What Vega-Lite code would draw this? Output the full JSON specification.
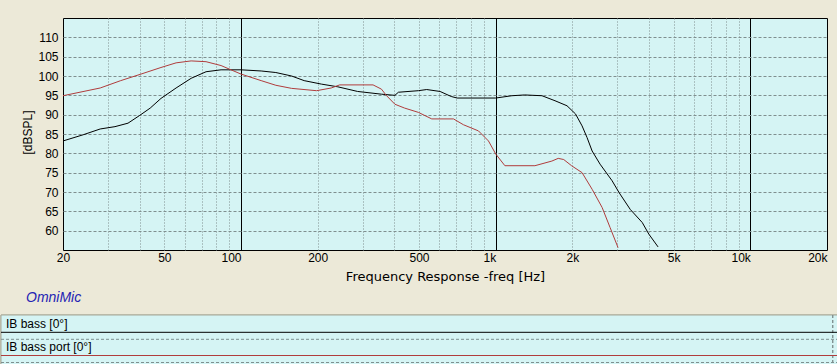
{
  "$schema": "https://vega.github.io/schema/vega-lite/v6.json",
  "background": "#ECE9D8",
  "padding": {"left": 0, "top": 17, "right": 0, "bottom": 0},
  "autosize": {"type": "pad"},
  "bounds": "flush",
  "spacing": 65,
  "resolve": {"scale": {"x": "independent", "y": "independent", "color": "independent"}},
  "config": {
    "font": "Liberation Sans",
    "view": {"stroke": null},
    "axis": {"labelFont": "Liberation Sans", "labelFontSize": 12, "labelColor": "#000000", "titleFont": "Liberation Sans", "titleFontSize": 12, "titleFontWeight": "normal", "titleColor": "#000000"}
  },
  "vconcat": [
    {
      "width": 764,
      "height": 232,
      "view": {"fill": "#D5F4F4", "stroke": "#000000", "strokeWidth": 1},
      "title": {"text": "OmniMic", "orient": "bottom", "anchor": "start", "frame": "group", "font": "Liberation Sans", "fontSize": 14, "fontStyle": "italic", "fontWeight": "normal", "color": "#2424B4", "dx": -37, "offset": 8, "baseline": "top"},
      "data": {"values": [
        {"series": "IB bass [0°]", "freq": 20, "spl": 83.2},
        {"series": "IB bass [0°]", "freq": 24, "spl": 84.8},
        {"series": "IB bass [0°]", "freq": 28, "spl": 86.3},
        {"series": "IB bass [0°]", "freq": 32, "spl": 86.9},
        {"series": "IB bass [0°]", "freq": 36, "spl": 87.8},
        {"series": "IB bass [0°]", "freq": 40, "spl": 89.8},
        {"series": "IB bass [0°]", "freq": 44, "spl": 91.7},
        {"series": "IB bass [0°]", "freq": 48.5, "spl": 94.2},
        {"series": "IB bass [0°]", "freq": 55.6, "spl": 96.9},
        {"series": "IB bass [0°]", "freq": 63.7, "spl": 99.4},
        {"series": "IB bass [0°]", "freq": 72.9, "spl": 101.1},
        {"series": "IB bass [0°]", "freq": 83.5, "spl": 101.6},
        {"series": "IB bass [0°]", "freq": 100, "spl": 101.6},
        {"series": "IB bass [0°]", "freq": 120, "spl": 101.3},
        {"series": "IB bass [0°]", "freq": 137, "spl": 100.9},
        {"series": "IB bass [0°]", "freq": 158, "spl": 100.0},
        {"series": "IB bass [0°]", "freq": 177, "spl": 98.8},
        {"series": "IB bass [0°]", "freq": 207, "spl": 97.9},
        {"series": "IB bass [0°]", "freq": 240, "spl": 97.2},
        {"series": "IB bass [0°]", "freq": 287, "spl": 96.0},
        {"series": "IB bass [0°]", "freq": 356, "spl": 95.3},
        {"series": "IB bass [0°]", "freq": 402, "spl": 95.0},
        {"series": "IB bass [0°]", "freq": 415, "spl": 95.8},
        {"series": "IB bass [0°]", "freq": 497, "spl": 96.2},
        {"series": "IB bass [0°]", "freq": 536, "spl": 96.5},
        {"series": "IB bass [0°]", "freq": 605, "spl": 96.0},
        {"series": "IB bass [0°]", "freq": 669, "spl": 94.7},
        {"series": "IB bass [0°]", "freq": 706, "spl": 94.3},
        {"series": "IB bass [0°]", "freq": 1000, "spl": 94.3},
        {"series": "IB bass [0°]", "freq": 1158, "spl": 94.9},
        {"series": "IB bass [0°]", "freq": 1300, "spl": 95.1},
        {"series": "IB bass [0°]", "freq": 1520, "spl": 94.9},
        {"series": "IB bass [0°]", "freq": 1710, "spl": 93.6},
        {"series": "IB bass [0°]", "freq": 1906, "spl": 92.3},
        {"series": "IB bass [0°]", "freq": 2058, "spl": 90.2},
        {"series": "IB bass [0°]", "freq": 2184, "spl": 87.1},
        {"series": "IB bass [0°]", "freq": 2284, "spl": 84.1},
        {"series": "IB bass [0°]", "freq": 2392, "spl": 80.6},
        {"series": "IB bass [0°]", "freq": 2570, "spl": 77.2},
        {"series": "IB bass [0°]", "freq": 2866, "spl": 72.9},
        {"series": "IB bass [0°]", "freq": 3055, "spl": 69.8},
        {"series": "IB bass [0°]", "freq": 3376, "spl": 65.5},
        {"series": "IB bass [0°]", "freq": 3764, "spl": 62.1},
        {"series": "IB bass [0°]", "freq": 3995, "spl": 59.1},
        {"series": "IB bass [0°]", "freq": 4342, "spl": 55.8},
        {"series": "IB bass port [0°]", "freq": 20, "spl": 94.9},
        {"series": "IB bass port [0°]", "freq": 28, "spl": 96.9},
        {"series": "IB bass port [0°]", "freq": 33.7, "spl": 98.8},
        {"series": "IB bass port [0°]", "freq": 40.5, "spl": 100.5},
        {"series": "IB bass port [0°]", "freq": 48.5, "spl": 102.2},
        {"series": "IB bass port [0°]", "freq": 55.6, "spl": 103.4},
        {"series": "IB bass port [0°]", "freq": 63.7, "spl": 103.9},
        {"series": "IB bass port [0°]", "freq": 72.9, "spl": 103.7},
        {"series": "IB bass port [0°]", "freq": 83.5, "spl": 102.7},
        {"series": "IB bass port [0°]", "freq": 100, "spl": 100.5},
        {"series": "IB bass port [0°]", "freq": 120, "spl": 98.8},
        {"series": "IB bass port [0°]", "freq": 137, "spl": 97.6},
        {"series": "IB bass port [0°]", "freq": 158, "spl": 96.8},
        {"series": "IB bass port [0°]", "freq": 198, "spl": 96.2},
        {"series": "IB bass port [0°]", "freq": 226, "spl": 96.9},
        {"series": "IB bass port [0°]", "freq": 244, "spl": 97.7},
        {"series": "IB bass port [0°]", "freq": 330, "spl": 97.7},
        {"series": "IB bass port [0°]", "freq": 356, "spl": 96.6},
        {"series": "IB bass port [0°]", "freq": 373, "spl": 94.9},
        {"series": "IB bass port [0°]", "freq": 402, "spl": 92.7},
        {"series": "IB bass port [0°]", "freq": 439, "spl": 91.7},
        {"series": "IB bass port [0°]", "freq": 497, "spl": 90.6},
        {"series": "IB bass port [0°]", "freq": 561, "spl": 88.9},
        {"series": "IB bass port [0°]", "freq": 683, "spl": 88.9},
        {"series": "IB bass port [0°]", "freq": 747, "spl": 87.4},
        {"series": "IB bass port [0°]", "freq": 856, "spl": 85.8},
        {"series": "IB bass port [0°]", "freq": 937, "spl": 83.2},
        {"series": "IB bass port [0°]", "freq": 1001, "spl": 79.8},
        {"series": "IB bass port [0°]", "freq": 1087, "spl": 76.8},
        {"series": "IB bass port [0°]", "freq": 1426, "spl": 76.8},
        {"series": "IB bass port [0°]", "freq": 1662, "spl": 78.0},
        {"series": "IB bass port [0°]", "freq": 1760, "spl": 78.7},
        {"series": "IB bass port [0°]", "freq": 1850, "spl": 78.4},
        {"series": "IB bass port [0°]", "freq": 1986, "spl": 76.8},
        {"series": "IB bass port [0°]", "freq": 2184, "spl": 75.0},
        {"series": "IB bass port [0°]", "freq": 2392, "spl": 70.7},
        {"series": "IB bass port [0°]", "freq": 2618, "spl": 66.0},
        {"series": "IB bass port [0°]", "freq": 2814, "spl": 60.8},
        {"series": "IB bass port [0°]", "freq": 3024, "spl": 55.6}
      ]},
      "mark": {"type": "line", "strokeWidth": 1, "clip": true},
      "encoding": {
        "x": {
          "field": "freq", "type": "quantitative",
          "scale": {"type": "log", "domain": [20, 20000], "nice": false},
          "axis": {
            "values": [20, 30, 40, 50, 60, 70, 80, 90, 100, 200, 300, 400, 500, 600, 700, 800, 900, 1000, 2000, 3000, 4000, 5000, 6000, 7000, 8000, 9000, 10000, 20000],
            "labelExpr": "indexof([20,50,100,200,500,1000,2000,5000,10000,20000], datum.value) >= 0 ? (datum.value >= 1000 ? (datum.value / 1000) + 'k' : '' + datum.value) : ''",
            "labelOverlap": false,
            "labelPadding": 2,
            "labelAlign": {"condition": {"test": "indexof([100,1000,10000,20000], datum.value) >= 0", "value": "right"}, "value": "center"},
            "ticks": false,
            "tickSize": 0,
            "domain": false,
            "grid": true,
            "gridColor": {"condition": {"test": "indexof([100,1000,10000], datum.value) >= 0", "value": "#000000"}, "value": "#7F8F8F"},
            "gridDash": {"condition": {"test": "indexof([100,1000,10000], datum.value) >= 0", "value": []}, "value": [1, 2]},
            "gridOpacity": {"condition": {"test": "datum.value == 20 || datum.value == 20000", "value": 0}, "value": 1},
            "title": "Frequency Response -freq [Hz]",
            "titleFont": "DejaVu Sans",
            "titleFontSize": 13,
            "titleX": 382,
            "titleY": 30,
            "titleAlign": "center",
            "titleBaseline": "alphabetic"
          }
        },
        "y": {
          "field": "spl", "type": "quantitative",
          "scale": {"domain": [55, 115], "nice": false, "zero": false},
          "axis": {
            "values": [60, 65, 70, 75, 80, 85, 90, 95, 100, 105, 110],
            "ticks": false,
            "tickSize": 0,
            "domain": false,
            "labelPadding": 5,
            "grid": true,
            "gridColor": "#7F8F8F",
            "gridDash": [3, 2],
            "title": "[dBSPL]",
            "titleX": -36,
            "titleY": 114,
            "titleAngle": -90,
            "titleAlign": "center",
            "titleBaseline": "middle"
          }
        },
        "color": {
          "field": "series", "type": "nominal",
          "scale": {"domain": ["IB bass [0°]", "IB bass port [0°]"], "range": ["#000000", "#B03C3C"]},
          "legend": null
        }
      }
    },
    {
      "width": 764,
      "height": 50,
      "view": {"stroke": null, "fill": null},
      "data": {"values": [{"series": "IB bass [0°]", "row": 0}, {"series": "IB bass port [0°]", "row": 1}]},
      "encoding": {
        "x": {"datum": 0, "type": "quantitative", "scale": {"domain": [0, 1], "range": [-62, 775]}, "axis": null}
      },
      "layer": [
        {
          "mark": {"type": "rect", "fill": "#D5F4F4", "stroke": "#A8A898", "strokeWidth": 1},
          "encoding": {
            "x2": {"datum": 1}
          }
        },
        {
          "mark": {"type": "rule", "color": "#7F8F8F", "strokeDash": [3, 2], "strokeWidth": 1},
          "encoding": {
            "x": {"datum": 0.9937, "type": "quantitative"}
          }
        },
        {
          "mark": {"type": "rule", "color": "#7F8F8F", "strokeDash": [3, 2], "strokeWidth": 1, "yOffset": 24.3},
          "encoding": {
            "x2": {"datum": 1},
            "y": {"field": "row", "type": "quantitative", "scale": {"domain": [0, 2.155], "reverse": true, "nice": false, "zero": false}, "axis": null}
          }
        },
        {
          "mark": {"type": "rule", "strokeWidth": 1, "yOffset": 17.3},
          "encoding": {
            "x2": {"datum": 1},
            "y": {"field": "row", "type": "quantitative", "axis": null},
            "color": {
              "field": "series", "type": "nominal",
              "scale": {"domain": ["IB bass [0°]", "IB bass port [0°]"], "range": ["#000000", "#B03C3C"]},
              "legend": null
            }
          }
        },
        {
          "mark": {"type": "text", "align": "left", "baseline": "alphabetic", "dx": 5, "yOffset": 12.7, "font": "Liberation Sans", "fontSize": 12, "color": "#000000"},
          "encoding": {
            "y": {"field": "row", "type": "quantitative", "axis": null},
            "text": {"field": "series"}
          }
        }
      ]
    }
  ]
}
